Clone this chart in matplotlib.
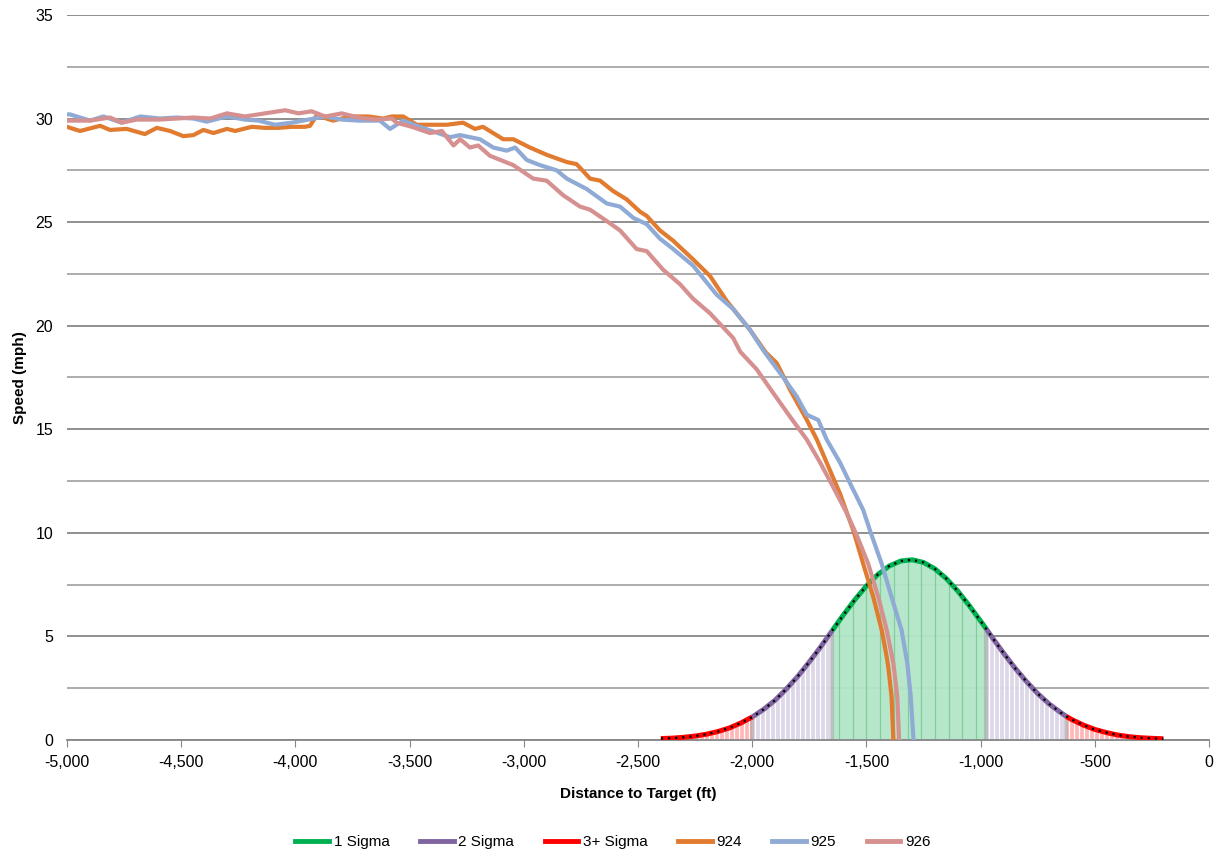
import matplotlib.pyplot as plt
from matplotlib.ticker import FuncFormatter, MultipleLocator
import numpy as np

plt.rcParams['font.family'] = ['Liberation Sans', 'DejaVu Sans']

# speed traces (distance ft, speed mph)
d924 = [-5000, -4987, -4943, -4855, -4812, -4739, -4659, -4607, -4549, -4491, -4447, -4403, -4359, -4300,
        -4264, -4191, -4133, -4075, -4016, -3958, -3936, -3907, -3835, -3761, -3681, -3616, -3578, -3528,
        -3469, -3338, -3266, -3214, -3179, -3090, -3046, -2973, -2900, -2812, -2769, -2710, -2666, -2609,
        -2550, -2491, -2462, -2404, -2346, -2259, -2185, -2112, -2010, -1940, -1893, -1834, -1761, -1717,
        -1659, -1616, -1557, -1514, -1470, -1433, -1411, -1404, -1390, -1382]
s924 = [29.6, 29.55, 29.4, 29.65, 29.45, 29.5, 29.25, 29.55, 29.4, 29.15, 29.2, 29.45, 29.3, 29.5,
        29.4, 29.6, 29.55, 29.55, 29.6, 29.6, 29.65, 30.15, 29.9, 30.1, 30.1, 30.0, 30.1, 30.1,
        29.7, 29.7, 29.8, 29.5, 29.6, 29.0, 29.0, 28.6, 28.25, 27.9, 27.8, 27.1, 27.0, 26.5,
        26.1, 25.5, 25.3, 24.6, 24.1, 23.2, 22.4, 21.2, 19.8, 18.7, 18.2, 16.9, 15.45, 14.5,
        13.0, 11.9, 10.1, 8.5, 6.9, 5.3, 4.0, 3.5, 2.1, 0.0]

d925 = [-5000, -4987, -4899, -4841, -4761, -4680, -4593, -4520, -4447, -4388, -4300, -4221, -4162, -4089,
        -4016, -3943, -3870, -3797, -3724, -3651, -3630, -3586, -3528, -3456, -3323, -3279, -3192, -3134,
        -3075, -3038, -2987, -2929, -2856, -2812, -2725, -2637, -2579, -2520, -2462, -2404, -2346, -2259,
        -2156, -2083, -2010, -1951, -1864, -1806, -1761, -1711, -1674, -1616, -1572, -1514, -1484, -1433,
        -1390, -1346, -1321, -1306, -1294]
s925 = [30.2, 30.2, 29.9, 30.1, 29.8, 30.1, 30.0, 30.05, 30.0, 29.85, 30.1, 29.95, 29.9, 29.7,
        29.8, 29.95, 30.1, 29.95, 29.9, 29.9, 29.9, 29.5, 29.9, 29.6, 29.1, 29.2, 29.0, 28.6,
        28.45, 28.6, 28.0, 27.75, 27.5, 27.1, 26.6, 25.9, 25.75, 25.2, 24.9, 24.2, 23.7, 22.9,
        21.5, 20.8, 19.8, 18.8, 17.5, 16.6, 15.7, 15.45, 14.5, 13.4, 12.4, 11.1, 10.1, 8.5,
        6.9, 5.3, 3.7, 2.1, 0.0]

d926 = [-5000, -4987, -4899, -4812, -4761, -4695, -4593, -4520, -4447, -4373, -4300, -4221, -4133, -4045,
        -3987, -3929, -3870, -3797, -3724, -3651, -3578, -3557, -3490, -3411, -3359, -3308, -3279, -3236,
        -3200, -3148, -3046, -2959, -2900, -2828, -2754, -2710, -2637, -2579, -2506, -2462, -2390, -2316,
        -2259, -2185, -2083, -2053, -1981, -1908, -1834, -1761, -1703, -1645, -1586, -1543, -1492, -1448,
        -1411, -1382, -1365, -1357]
s926 = [29.9, 29.9, 29.9, 30.05, 29.8, 29.95, 29.95, 30.0, 30.05, 30.0, 30.25, 30.1, 30.25, 30.4,
        30.25, 30.35, 30.1, 30.25, 30.05, 29.95, 30.0, 29.8, 29.6, 29.3, 29.4, 28.7, 29.0, 28.6,
        28.7, 28.2, 27.75, 27.1, 27.0, 26.3, 25.75, 25.6, 25.05, 24.6, 23.7, 23.6, 22.7, 22.0,
        21.3, 20.6, 19.4, 18.75, 17.9, 16.75, 15.6, 14.5, 13.4, 12.2, 10.95, 9.9, 8.5, 6.9,
        5.3, 3.7, 2.1, 0.0]

# bell curve (distance ft, height)
bell_x = [-2400, -2350, -2300, -2250, -2200, -2150, -2100, -2050, -2000, -1950, -1900, -1850, -1800,
          -1750, -1700, -1650, -1600, -1550, -1500, -1450, -1400, -1350, -1300, -1250, -1200, -1150,
          -1100, -1050, -1000, -975, -950, -900, -850, -800, -750, -700, -650, -625, -600, -550,
          -500, -450, -400, -350, -300, -250, -200]
bell_y = [0.07, 0.09, 0.13, 0.19, 0.28, 0.41, 0.58, 0.82, 1.11, 1.48, 1.92, 2.47, 3.08,
          3.77, 4.5, 5.28, 6.05, 6.78, 7.44, 7.99, 8.4, 8.64, 8.7, 8.57, 8.26, 7.79,
          7.19, 6.49, 5.74, 5.36, 4.96, 4.2, 3.48, 2.83, 2.24, 1.74, 1.33, 1.14, 0.98, 0.72,
          0.51, 0.36, 0.24, 0.16, 0.11, 0.08, 0.06]
sigma_edges = [-2000, -1650, -975, -625]

fig = plt.figure(figsize=(12.21, 8.55), dpi=100)
ax = fig.add_axes([0.0549, 0.1345, 0.9353, 0.848])

bx = np.array(bell_x)
by = np.array(bell_y)

def seg(lo, hi):
    m = (bx >= lo) & (bx <= hi)
    return bx[m], by[m]

regions = [
    (-2400, -2000, '#ff0000', '#ffb3b3', 'white'),
    (-2000, -1650, '#8064a2', '#dcd5e6', 'white'),
    (-1650, -975, '#00b050', '#b2e6c7', '#7fcf9d'),
    (-975, -625, '#8064a2', '#dcd5e6', 'white'),
    (-625, -200, '#ff0000', '#ffb3b3', 'white'),
]
for lo, hi, lc, fc, vc in regions:
    x, y = seg(lo, hi)
    poly = ax.fill_between(x, 0, y, color=fc, lw=0, zorder=1.5, alpha=0.95)
    step = 60 if vc != 'white' else 22
    vl = ax.vlines(np.arange(lo + step / 2, hi, step), 0, 9, color=vc, lw=0.9, zorder=1.6)
    vl.set_clip_path(poly.get_paths()[0], ax.transData)
for e in sigma_edges:
    x, y = seg(e - 1, e + 1)
    ax.vlines(e, 0, y[0], color='#999999', lw=3, alpha=0.45, zorder=1.7)

for lo, hi, lc, fc, vc in regions:
    x, y = seg(lo, hi)
    ax.plot(x, y, color=lc, lw=3.6, zorder=3, solid_capstyle='butt')
ax.plot(bx, by, color='black', lw=1.6, ls=(0, (1, 2.2)), zorder=3.5)

ax.plot(d924, s924, color='#e07b30', lw=3, zorder=4, solid_joinstyle='round')
ax.plot(d925, s925, color='#8faad4', lw=3, zorder=4, solid_joinstyle='round')
ax.plot(d926, s926, color='#d69090', lw=3, zorder=4, solid_joinstyle='round')

# legend proxies
ax.plot([], [], color='#00b050', lw=3.5, label='1 Sigma')
ax.plot([], [], color='#8064a2', lw=3.5, label='2 Sigma')
ax.plot([], [], color='#ff0000', lw=3.5, label='3+ Sigma')
ax.plot([], [], color='#e07b30', lw=3.5, label='924')
ax.plot([], [], color='#8faad4', lw=3.5, label='925')
ax.plot([], [], color='#d69090', lw=3.5, label='926')
h, l = ax.get_legend_handles_labels()
ax.legend(h[-6:], l[-6:], loc='upper center', bbox_to_anchor=(0.478, -0.112), ncol=6, frameon=False,
          fontsize=11, handlelength=2.2, handletextpad=0.3, columnspacing=2.0)

ax.set_xlim(-5000, 0)
ax.set_ylim(0, 35)
ax.xaxis.set_major_locator(MultipleLocator(500))
ax.xaxis.set_major_formatter(FuncFormatter(lambda v, p: f'{int(v):,}'))
ax.yaxis.set_major_locator(MultipleLocator(5))
ax.yaxis.set_minor_locator(MultipleLocator(2.5))
ax.grid(axis='y', which='major', color='#868686', lw=1.3, zorder=0)
ax.grid(axis='y', which='minor', color='#a6a6a6', lw=1.3, zorder=0)
ax.set_axisbelow(True)
for s in ['top', 'right', 'left']:
    ax.spines[s].set_visible(False)
ax.spines['bottom'].set_color('#868686')
ax.spines['bottom'].set_linewidth(1.3)
ax.tick_params(axis='y', which='both', length=0, labelsize=11.5, pad=10)
ax.tick_params(axis='x', length=5, color='#868686', labelsize=11.5, pad=6)
ax.set_xlabel('Distance to Target (ft)', fontsize=11, fontweight='bold', labelpad=12)
ax.set_ylabel('Speed (mph)', fontsize=11, fontweight='bold', labelpad=6)

fig.savefig('out.png', dpi=100)
